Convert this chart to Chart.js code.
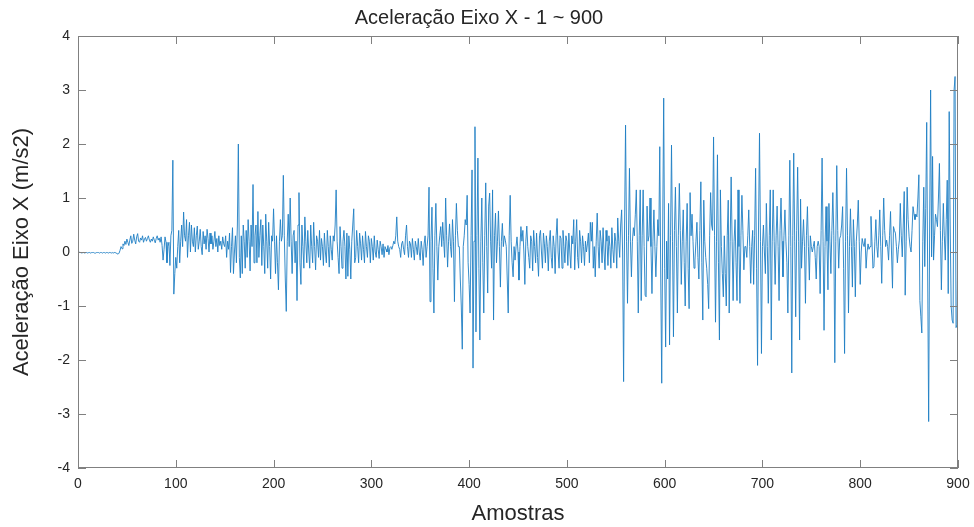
<!DOCTYPE html>
<html>
<head>
<meta charset="utf-8">
<script src="https://cdn.jsdelivr.net/npm/chart.js@4/dist/chart.umd.min.js"></script>
<style>
  html, body { margin: 0; padding: 0; background: #fff; }
  canvas { display: block; }
</style>
</head>
<body>
<canvas id="grafico" width="974" height="527"></canvas>
<script>
// aceleracao eixo X, amostras 1..900
const aceleracaoX = [
  0,-0.01,-0.01,-0.02,-0.01,-0.01,-0.02,-0.01,-0.01,-0.02,
  -0.01,-0.01,-0.02,-0.01,-0.01,-0.01,-0.02,-0.02,-0.01,-0.01,
  -0.01,-0.02,-0.01,-0.01,-0.02,-0.01,-0.01,-0.02,-0.01,-0.01,
  -0.02,-0.01,-0.01,-0.02,-0.01,-0.02,-0.01,-0.01,-0.02,-0.03,
  -0.04,-0.02,0.03,0.1,0.06,0.15,0.12,0.2,0.14,0.24,
  0.18,0.12,0.22,0.3,0.16,0.2,0.33,0.22,0.15,0.28,
  0.34,0.2,0.18,0.26,0.22,0.3,0.18,0.24,0.27,0.2,
  0.25,0.3,0.22,0.18,0.24,0.2,0.28,0.22,0.17,0.25,
  0.3,0.22,0.26,0.18,0.28,0.12,-0.15,0.05,0.28,0.18,
  -0.2,0.1,0.18,-0.25,0.3,0.4,1.7,-0.78,-0.4,-0.1,
  -0.3,0.1,0.4,-0.2,0.2,0.5,0.1,0.74,0.3,0.2,
  0.6,-0.1,0.3,0.55,0.0,0.5,0.2,0.1,0.45,0.0,
  0.3,0.48,0.05,0.2,0.42,0.1,-0.05,0.38,0.15,0.3,
  0.05,0.42,0.25,0.0,0.35,0.15,0.3,0.05,0.2,0.38,
  0.1,0.25,0.0,0.3,0.12,0.2,0.05,0.28,0.15,0.1,
  0.3,-0.1,0.2,0.05,0.35,-0.38,0.1,0.45,-0.4,0.0,
  0.3,-0.2,0.5,2.0,-0.1,-0.48,0.3,-0.4,0.5,0.2,
  -0.3,0.4,-0.1,0.6,0.2,-0.35,0.5,0.1,1.25,-0.2,
  0.3,0.5,-0.2,0.75,-0.1,0.3,0.6,-0.25,0.5,0.1,
  -0.4,0.7,0.2,-0.3,0.55,0.1,-0.5,0.3,0.2,0.8,
  0.2,-0.4,0.3,-0.2,-0.7,0.2,0.6,0.2,0.3,1.42,
  0.3,-0.5,-1.1,0.2,0.7,0.1,1.0,0.2,-0.4,0.3,
  0.4,-0.2,0.2,-0.9,0.5,1.1,-0.2,-0.6,0.5,0.1,
  -0.3,0.65,0.2,-0.2,0.4,0.0,-0.3,0.5,0.1,-0.2,
  0.55,0.1,-0.33,0.3,0.2,-0.1,0.4,-0.15,0.25,0.1,
  -0.25,0.35,0.0,-0.2,0.4,0.1,-0.28,0.3,0.05,-0.15,
  0.3,0.2,0.5,1.15,0.2,-0.1,-0.4,0.47,0.1,-0.3,
  0.2,0.4,0.1,-0.5,0.35,-0.45,0.3,0.05,-0.5,0.2,
  0.5,0.8,-0.2,-0.1,0.4,0.1,-0.2,0.35,0.15,-0.15,
  0.3,0.05,-0.2,0.38,0.1,-0.1,0.3,0.2,-0.2,0.25,
  0.1,-0.15,0.3,0.0,-0.1,0.22,0.05,-0.12,0.2,0.1,
  -0.05,0.15,-0.1,0.1,0.05,0.0,0.12,-0.05,0.08,0.1,
  0.05,0.12,0.2,0.15,0.3,0.65,0.2,0.1,0.05,-0.1,
  0.15,0.2,0.05,-0.05,0.3,0.5,0.1,-0.1,0.2,0.15,
  -0.1,0.25,0.05,-0.15,0.2,0.1,-0.05,0.25,0.0,-0.15,
  0.2,0.05,-0.25,0.15,0.3,-0.1,0.1,0.3,1.2,-0.92,
  0.2,0.83,-0.3,-1.13,0.3,0.9,0.1,-0.52,0.1,0.3,
  0.47,0.1,0.55,0.2,-0.1,1.0,0.3,-0.28,0.2,0.52,
  0.1,-0.1,0.6,0.2,-0.92,0.3,0.9,0.4,0.1,0.1,
  -0.5,-1.0,-1.8,0.1,0.3,0.6,0.5,1.05,-0.2,-0.6,
  -1.13,0.3,1.52,-2.15,0.2,2.32,-1.48,0.3,1.74,-0.3,
  -1.63,0.2,1.0,-0.2,-1.13,0.3,1.28,0.1,-0.76,0.85,
  1.09,0.2,-0.3,1.15,-1.26,0.3,0.72,-0.2,0.2,0.76,
  0.1,-0.65,0.2,0.53,0.1,0.3,0.22,0.1,-0.5,-1.13,
  0.3,1.05,0.2,-0.2,-0.46,0.1,-0.15,0.1,0.28,0.0,
  -0.52,0.1,0.47,0.2,0.4,0.0,-0.6,0.2,0.48,0.1,
  -0.1,-0.3,0.3,0.2,-0.35,0.4,0.1,-0.2,0.35,-0.1,
  -0.45,0.3,0.4,0.0,-0.3,0.35,0.15,-0.2,0.3,0.1,
  -0.35,0.2,0.4,-0.1,-0.3,0.3,0.1,-0.4,0.3,0.62,
  0.0,-0.3,0.3,0.25,-0.3,0.4,0.1,-0.2,0.3,0.2,
  -0.25,0.35,0.0,-0.3,0.3,0.15,0.6,-0.33,0.2,0.6,
  -0.1,-0.3,0.4,0.2,-0.2,0.3,0.1,-0.25,0.2,0.0,
  0.15,0.35,-0.2,0.55,0.2,0.55,-0.3,0.1,-0.46,0.2,
  0.72,0.1,-0.3,0.4,0.2,-0.2,0.45,0.0,-0.33,0.4,
  0.2,-0.25,0.3,0.1,-0.3,0.45,0.05,-0.2,0.35,0.2,
  -0.3,0.63,0.2,-0.1,0.5,0.78,0.0,-2.4,0.5,2.35,
  0.2,-0.95,0.3,1.55,0.2,-0.46,0.2,0.45,0.3,0.7,
  1.15,0.2,-1.13,0.3,1.15,-0.9,0.3,1.15,0.1,-0.8,
  -0.83,0.85,0.2,0.3,1.0,0.1,-0.77,0.2,0.78,0.1,
  -0.46,0.1,0.6,0.3,1.95,-0.5,-2.43,0.5,2.85,-0.3,
  -1.76,0.2,-0.5,0.9,-1.72,0.3,1.98,0.2,-1.57,0.4,
  1.2,0.1,-1.13,0.3,1.27,0.4,-0.6,0.2,0.78,-0.2,
  -1.0,0.2,0.9,-0.3,-1.05,1.1,0.3,0.7,0.2,-0.3,
  -0.15,0.2,0.55,-0.1,-0.5,0.4,1.3,-0.2,-1.26,0.96,
  0.2,-0.1,-0.3,-0.6,-1.05,0.3,1.1,0.5,0.4,2.13,
  0.3,-1.3,0.2,1.8,-0.2,-1.63,1.15,0.1,-0.4,-0.83,
  0.3,-0.4,-1.0,0.3,0.96,-1.13,0.2,1.39,0.2,-0.9,
  0.2,0.6,-0.2,-0.9,1.15,0.1,-0.95,0.3,1.05,0.4,
  -0.33,0.1,0.1,-0.1,0.3,0.78,0.1,-0.58,0.1,0.4,
  -0.6,0.3,1.55,-0.3,-2.1,0.5,2.2,0.2,-1.88,0.1,
  0.5,0.0,-0.4,0.9,0.1,-0.95,0.3,1.15,-1.63,0.2,
  1.15,0.2,-0.6,0.3,0.85,0.1,-0.9,0.4,1.0,0.2,
  -0.46,0.3,0.78,0.2,-0.2,-1.13,0.3,1.7,0.1,-2.24,
  0.3,1.83,0.2,-1.2,0.4,1.57,0.2,-1.63,0.98,-0.3,
  0.2,0.6,0.1,-0.95,0.3,0.84,0.1,-0.52,0.3,0.1,
  0.0,0.1,0.2,-0.1,-0.5,0.1,0.2,0.1,-0.77,0.4,
  1.74,0.2,-1.45,0.1,0.84,0.2,-0.7,0.9,0.2,-0.4,
  0.4,1.1,0.3,-2.05,0.2,1.6,0.4,-0.3,0.25,0.3,
  0.5,0.84,-0.3,-1.88,0.2,1.55,0.3,-1.13,0.1,0.8,
  0.1,-0.65,0.6,0.1,-0.83,0.2,0.5,0.96,0.2,-0.6,
  0.0,0.25,0.15,0.1,0.25,-0.3,0.0,0.15,0.05,0.1,
  0.66,0.2,-0.3,-0.27,0.2,0.6,0.1,-0.1,0.3,0.78,
  0.1,-0.58,0.3,1.0,0.4,0.1,0.22,0.1,-0.15,0.3,
  0.75,0.0,-0.67,0.47,0.4,0.35,0.1,-0.2,0.05,0.22,
  0.9,0.3,-0.09,0.5,1.12,-0.8,0.2,1.2,0.6,0.28,
  0.1,0.0,0.4,0.84,0.7,0.6,0.7,0.65,1.0,1.43,
  -0.9,-1.2,-1.5,0.2,1.2,-0.27,0.8,2.4,-0.5,-3.14,
  0.5,3.0,-0.09,1.77,-0.15,0.3,0.7,0.6,0.47,1.0,
  1.64,0.4,-0.7,0.2,0.9,0.3,-0.15,0.6,1.33,-0.77,
  2.6,0.5,-1.0,-1.26,-1.32,3.0,3.25,-1.4,-1.35,0.5
];

const amostras = aceleracaoX.map((v, i) => i + 1);
const ticksX = [0, 100, 200, 300, 400, 500, 600, 700, 800, 900];
const ticksY = [-4, -3, -2, -1, 0, 1, 2, 3, 4];

const fonte = "'Liberation Sans', Arial, Helvetica, sans-serif";
const corEixo = '#262626';

// caixa em volta e ticks pra dentro, estilo matlab
const caixaMatlab = {
  id: 'caixaMatlab',
  afterDraw(chart) {
    const ctx = chart.ctx;
    const a = chart.chartArea;
    const sx = chart.scales.x, sy = chart.scales.y;
    const tam = 8;
    ctx.save();
    ctx.strokeStyle = '#808080';
    ctx.lineWidth = 1;
    ctx.strokeRect(a.left + 0.5, a.top + 0.5, a.right - a.left - 1, a.bottom - a.top - 1);
    ctx.beginPath();
    ticksX.forEach(t => {
      const px = Math.round(sx.getPixelForValue(t)) + 0.5;
      ctx.moveTo(px, a.bottom); ctx.lineTo(px, a.bottom - tam);
      ctx.moveTo(px, a.top); ctx.lineTo(px, a.top + tam);
    });
    ticksY.forEach(t => {
      const py = Math.round(sy.getPixelForValue(t)) + 0.5;
      ctx.moveTo(a.left, py); ctx.lineTo(a.left + tam, py);
      ctx.moveTo(a.right, py); ctx.lineTo(a.right - tam, py);
    });
    ctx.stroke();
    ctx.restore();
  }
};

new Chart(document.getElementById('grafico'), {
  type: 'line',
  data: {
    labels: amostras,
    datasets: [{
      label: 'Aceleração Eixo X',
      data: amostras.map((x, i) => ({ x: x, y: aceleracaoX[i] })),
      borderColor: '#1f7fc4',
      borderWidth: 0.9,
      pointRadius: 0,
      tension: 0,
      fill: false
    }]
  },
  options: {
    responsive: false,
    animation: false,
    devicePixelRatio: 1,
    layout: { padding: { left: 0, right: 16, top: 0, bottom: 0 } },
    plugins: {
      legend: { display: false },
      tooltip: { enabled: false },
      title: {
        display: true,
        text: 'Aceleração Eixo X - 1 ~ 900',
        color: corEixo,
        font: { family: fonte, size: 20, weight: 'normal', lineHeight: 1.2 },
        padding: { top: 6, bottom: 6 }
      }
    },
    scales: {
      x: {
        type: 'linear',
        min: 0,
        max: 900,
        afterFit: s => { s.height = 59; s.paddingLeft = 0; s.paddingRight = 0; },
        afterBuildTicks: s => { s.ticks = ticksX.map(v => ({ value: v })); },
        grid: { display: false, drawTicks: false },
        border: { display: false },
        ticks: {
          autoSkip: false,
          maxRotation: 0,
          padding: 8,
          color: corEixo,
          font: { family: fonte, size: 14 }
        },
        title: {
          display: true,
          text: 'Amostras',
          color: corEixo,
          font: { family: fonte, size: 22, lineHeight: 1.2 },
          padding: { top: 6, bottom: 0 }
        }
      },
      y: {
        min: -4,
        max: 4,
        afterFit: s => { s.width = 78; s.paddingTop = 0; s.paddingBottom = 0; },
        afterBuildTicks: s => { s.ticks = ticksY.map(v => ({ value: v })); },
        grid: { display: false, drawTicks: false },
        border: { display: false },
        ticks: {
          padding: 8,
          color: corEixo,
          font: { family: fonte, size: 14 }
        },
        title: {
          display: true,
          text: 'Aceleração Eixo X (m/s2)',
          color: corEixo,
          font: { family: fonte, size: 22, lineHeight: 1.2 },
          padding: { top: 9, bottom: 0 }
        }
      }
    }
  },
  plugins: [caixaMatlab]
});
</script>
</body>
</html>
